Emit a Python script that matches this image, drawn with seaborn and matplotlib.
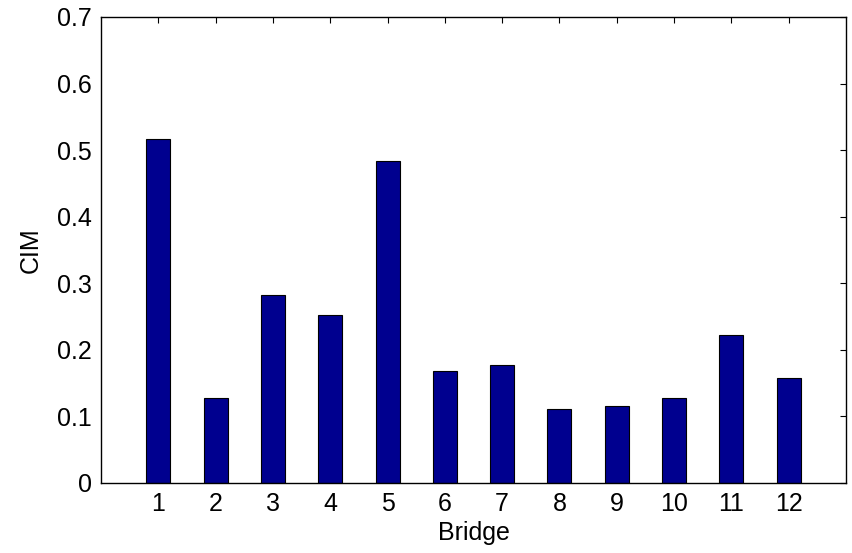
import matplotlib
matplotlib.use("Agg")
import matplotlib.pyplot as plt
import seaborn as sns
import pandas as pd

bridges = [1, 2, 3, 4, 5, 6, 7, 8, 9, 10, 11, 12]
cim = [0.517, 0.127, 0.283, 0.253, 0.483, 0.168, 0.178, 0.111, 0.115, 0.127, 0.223, 0.157]
yticks = [0, 0.1, 0.2, 0.3, 0.4, 0.5, 0.6, 0.7]
ytick_labels = ["0", "0.1", "0.2", "0.3", "0.4", "0.5", "0.6", "0.7"]

sns.set_style("white")
plt.rcParams['font.family'] = ['Liberation Sans', 'DejaVu Sans']

df = pd.DataFrame({"Bridge": bridges, "CIM": cim})

fig = plt.figure(figsize=(8.53, 5.53), dpi=100)
ax = fig.add_axes([101/853, 1 - 483/553, (846 - 101)/853, (483 - 17)/553])
sns.barplot(data=df, x="Bridge", y="CIM", native_scale=True, width=0.42,
            color="#00008F", saturation=1, edgecolor="black", linewidth=0.8, ax=ax)

ax.set_xlim(0, 13)
ax.set_ylim(0, 0.7)
ax.set_xticks(bridges)
ax.set_xticklabels([str(b) for b in bridges])
ax.set_yticks(yticks)
ax.set_yticklabels(ytick_labels)
ax.tick_params(direction="in", length=4, width=0.8, top=True, right=True,
               labelsize=18, colors="black", pad=6.5)
for s in ax.spines.values():
    s.set_visible(True)
    s.set_color("black")
    s.set_linewidth(1.0)
ax.set_xlabel("Bridge", fontsize=18, labelpad=3.5, color="black")
ax.set_ylabel("CIM", fontsize=18, labelpad=10, color="black")
fig.savefig("out.png", dpi=100)
